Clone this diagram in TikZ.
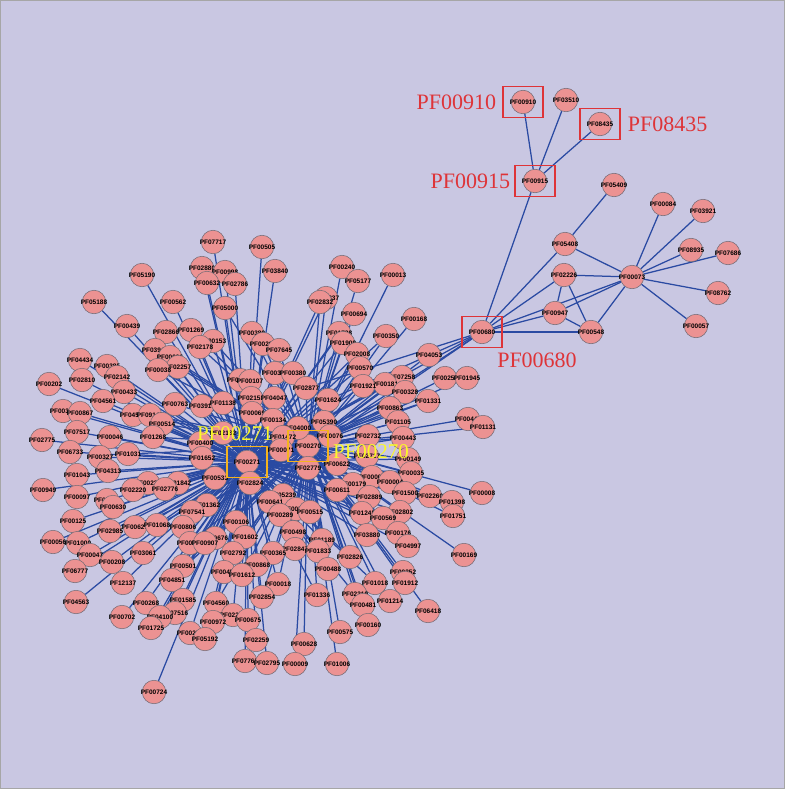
\documentclass[tikz,border=0pt]{standalone}
\usepackage{fontspec}
\setmainfont{Liberation Sans}
\newfontfamily\bigserif{Liberation Serif}
\usetikzlibrary{calc}
\pgfdeclarelayer{bg}
\pgfsetlayers{bg,main}
\definecolor{bgcol}{RGB}{201,199,226}
\definecolor{nodefill}{RGB}{236,146,146}
\definecolor{nodeline}{RGB}{110,105,115}
\definecolor{edgecol}{RGB}{42,74,162}
\definecolor{redmark}{RGB}{222,52,56}
\definecolor{yellowtext}{RGB}{250,248,40}
\definecolor{yellowbox}{RGB}{245,180,30}
\begin{document}
\begin{tikzpicture}[x=1pt,y=-1pt,
  pfnode/.style={circle, draw=nodeline, line width=0.5pt, fill=nodefill, minimum size=23.5pt, inner sep=0pt},
  pflabel/.style={font=\bfseries\fontsize{6.5}{7}\selectfont, inner sep=0pt, text=black},
  edge/.style={draw=edgecol, line width=1.25pt},
  redbox/.style={draw=redmark, line width=1.2pt, minimum width=40pt, minimum height=31pt, inner sep=0pt},
  yelbox/.style={draw=yellowbox, line width=1.2pt, minimum width=40pt, minimum height=31pt, inner sep=0pt},
  redtext/.style={text=redmark, font=\bigserif\fontsize{22}{22}\selectfont, inner sep=0pt},
  yeltext/.style={text=yellowtext, font=\bigserif\fontsize{21}{21}\selectfont, inner sep=0pt}]
\useasboundingbox (0,0) rectangle (785,789);

% ---- hubs
\node[pfnode, label={[pflabel]center:PF00271}] (PF00271) at (247,462) {};
\node[pfnode, label={[pflabel]center:PF00270}] (PF00270) at (308,446) {};

% ---- big cluster
\def\biglist{PF00168/414/319, PF04053/429/355, PF07717/213/242, PF00505/262/247, PF03840/275/271,
PF00240/342/267, PF05177/358/281, PF00013/393/275, PF02880/202/268, PF00998/225/272, PF00632/207/283,
PF02786/235/284, PF05190/142/275, PF05188/94/302, PF00562/173/302, PF05000/225/308, PF02837/326/298,
PF02832/320/302, PF00694/354/314, PF00439/127/326, PF02866/166/332, PF01269/191/330, PF00153/213/341,
PF02178/200/347, PF00389/252/333, PF00205/263/344, PF07645/279/350, PF01728/339/333, PF01909/343/343,
PF00350/386/336, PF02008/357/354, PF03947/155/350, PF00096/170/357, PF04434/80/360, PF00385/107/366,
PF02257/178/367, PF00038/158/370, PF00570/360/368, PF00303/275/373, PF00380/293/373, PF02810/82/380,
PF02142/117/377, PF00202/49/384, PF07258/402/377, PF00250/445/378, PF01945/467/378, PF00181/385/384,
PF01921/363/386, PF00308/240/380, PF00107/250/381, PF02877/306/388, PF00328/405/392, PF00433/124/392,
PF02151/251/398, PF04047/274/398, PF01624/328/400, PF01331/428/401, PF04561/103/401, PF00763/175/404,
PF03915/202/406, PF01138/223/403, PF00863/390/408, PF00348/63/411, PF00867/80/413, PF04569/133/415,
PF09148/150/415, PF00069/252/413, PF00134/273/420, PF05390/324/422, PF01105/398/422, PF00442/468/419,
PF00514/162/424, PF04000/298/428, PF01131/483/427, PF07517/77/432, PF00046/110/437, PF01268/153/437,
PF02775/42/440, PF02182/223/433, PF00400/200/443, PF01472/283/437, PF00076/330/436, PF02732/368/436,
PF00443/403/438, PF06733/70/452, PF00327/100/457, PF01031/128/454, PF01652/202/458, PF00071/281/450,
PF02717/367/456, PF00149/408/459, PF00622/337/464, PF02779/308/468, PF04313/108/471, PF01043/77/475,
PF00035/411/473, PF00005/372/477, PF00533/215/478, PF00228/148/483, PF01842/178/483, PF02824/250/483,
PF00179/353/484, PF00004/390/482, PF02776/165/489, PF02220/133/490, PF00949/43/490, PF00008/482/493,
PF00611/337/490, PF05239/283/495, PF01500/405/493, PF02260/430/496, PF02889/369/497, PF00097/77/497,
PF00623/107/500, PF01362/207/505, PF00630/113/507, PF00641/270/502, PF00518/296/509, PF00515/310/512,
PF01398/452/502, PF07541/192/512, PF02802/400/512, PF01245/362/513, PF00289/280/515, PF01751/453/516,
PF00569/383/518, PF00125/73/521, PF00106/236/522, PF00627/135/527, PF01068/157/525, PF00806/183/527,
PF02985/110/531, PF00498/293/532, PF00176/398/533, PF03880/367/535, PF00676/215/538, PF01602/245/537,
PF01189/322/540, PF00056/53/542, PF01000/78/543, PF00730/190/543, PF00907/205/543, PF04997/408/546,
PF02847/295/549, PF01833/318/551, PF03061/143/553, PF02792/233/553, PF00365/273/553, PF00047/90/555,
PF00169/464/555, PF02826/350/557, PF00208/112/562, PF00868/257/565, PF00501/183/566, PF00488/328/569,
PF06777/75/571, PF00454/224/572, PF00252/403/572, PF01612/242/575, PF04851/172/580, PF01018/375/583,
PF01912/405/583, PF12137/123/583, PF00018/278/584, PF01336/317/595, PF02319/355/594, PF02854/262/597,
PF01585/183/600, PF01214/390/601, PF04563/76/602, PF00268/146/603, PF04560/216/603, PF00481/363/605,
PF06418/428/611, PF07516/175/613, PF04100/160/617, PF00702/122/617, PF02225/233/615, PF00675/248/620,
PF00972/213/622, PF00160/368/625, PF01725/151/628, PF00575/340/632, PF00227/190/633, PF05192/205/639,
PF02259/256/640, PF00628/304/644, PF07765/245/661, PF02795/267/663, PF00009/295/664, PF01006/337/664,
PF00724/154/692}

\foreach \n/\x/\y in \biglist {
  \node[pfnode, label={[pflabel]center:\n}] (\n) at (\x,\y) {};
}

% ---- upper right cluster
\foreach \n/\x/\y in {PF00910/523/102, PF03510/566/100, PF08435/600/124, PF00915/535/181,
  PF05409/614/185, PF00084/663/204, PF03921/703/211, PF05408/565/244, PF08935/691/250,
  PF07686/728/253, PF02226/564/275, PF00073/632/277, PF08762/718/293, PF00947/555/313,
  PF00548/591/332, PF00057/696/326, PF00680/482/332} {
  \node[pfnode, label={[pflabel]center:\n}] (\n) at (\x,\y) {};
}

% ---- highlight boxes and labels
\node[redbox] (b910) at (PF00910) {};
\node[redbox] (b8435) at (PF08435) {};
\node[redbox] (b915) at (PF00915) {};
\node[redbox] (b680) at (PF00680) {};
\node[yelbox] (b271) at (PF00271) {};
\node[yelbox] (b270) at (PF00270) {};
\node[redtext, anchor=east] (t910) at ($(b910.west)+(-6,0)$) {PF00910};
\node[redtext, anchor=west] (t8435) at ($(b8435.east)+(7,0)$) {PF08435};
\node[redtext, anchor=east] (t915) at ($(b915.west)+(-4,0)$) {PF00915};
\node[redtext] (t680) at (537,360) {PF00680};
\node[yeltext] (t271) at (235,434) {PF00271};
\node[yeltext] (t270) at (371,452) {PF00270};

\begin{pgfonlayer}{bg}
  \fill[bgcol] (0,0) rectangle (785,789);
  \draw[gray!70, line width=1pt] (0.5,0.5) rectangle (784.5,788.5);
  \foreach \n/\x/\y in \biglist {
    \pgfmathsetmacro\dd{veclen(\x-278,\y-455)}
    \ifdim\dd pt<165pt
      \draw[edge] (\n) -- (PF00271);
      \draw[edge] (\n) -- (PF00270);
    \else
      \ifdim\x pt<280pt
        \draw[edge] (\n) -- (PF00271);
      \else
        \draw[edge] (\n) -- (PF00270);
      \fi
    \fi
  }
  \draw[edge] (PF00271) -- (PF00270);
  \foreach \a/\b in {PF00910/PF00915, PF03510/PF00915, PF08435/PF00915, PF00915/PF00680,
    PF05409/PF05408, PF05408/PF00680, PF05408/PF00073, PF00084/PF00073, PF03921/PF00073,
    PF08935/PF00073, PF07686/PF00073, PF02226/PF00073, PF08762/PF00073, PF00057/PF00073,
    PF00548/PF00073, PF00680/PF02226, PF00680/PF00947, PF00680/PF00548, PF00680/PF00073,
    PF02226/PF00947, PF02226/PF00548, PF00947/PF00548, PF00947/PF00073,
    PF00680/PF00271, PF00680/PF00270, PF00680/PF02877, PF00680/PF01624, PF00680/PF00076} {
    \draw[edge] (\a) -- (\b);
  }
\end{pgfonlayer}
\end{tikzpicture}
\end{document}
